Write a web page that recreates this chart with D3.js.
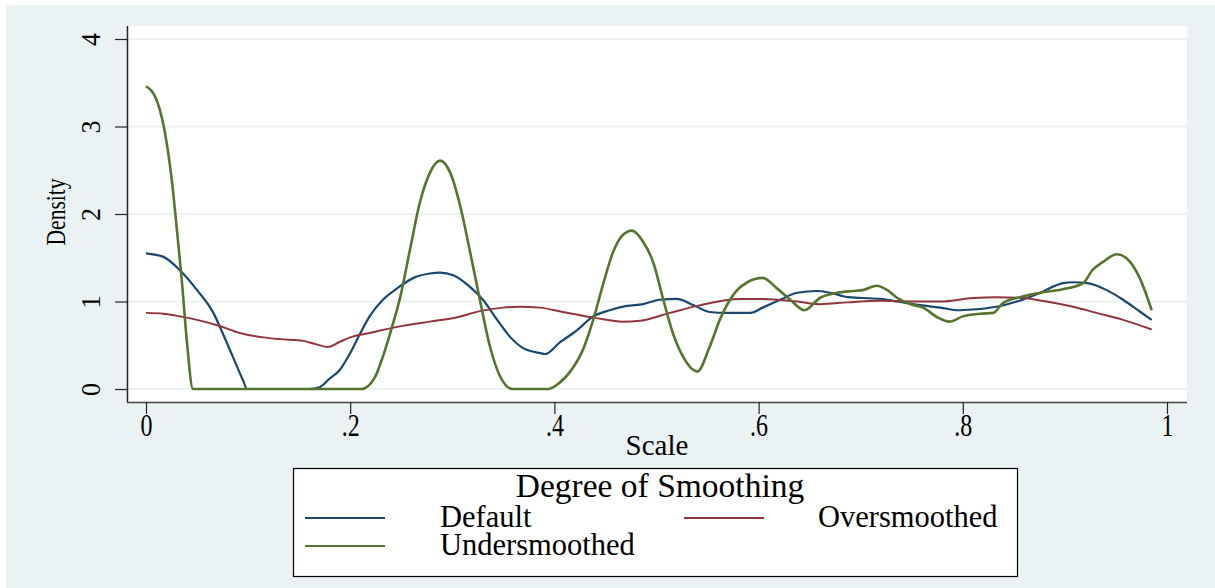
<!DOCTYPE html>
<html>
<head>
<meta charset="utf-8">
<script src="https://cdn.jsdelivr.net/npm/d3@7"></script>
<style>
  html, body { margin: 0; padding: 0; background: #ffffff; }
  svg { display: block; }
</style>
</head>
<body>
<svg id="chart" width="1215" height="588"></svg>
<script>
// ---- data ----
const seriesNames = ["Default", "Oversmoothed", "Undersmoothed"];
const xTickValues = [0, 0.2, 0.4, 0.6, 0.8, 1];
const xTickLabels = ["0", ".2", ".4", ".6", ".8", "1"];
const yTickValues = [0, 1, 2, 3, 4];
const yTickLabels = ["0", "1", "2", "3", "4"];

const xDefault = [0, .017, .033, .05, .066, .075, .085, .095, .099, .16, .17, .18, .19, .2, .21, .219, .232, .246, .262, .278, .288, .301, .317, .33, .344, .357, .369, .386, .391, .405, .422, .438, .454, .471, .487, .503, .52, .536, .552, .569, .582, .592, .604, .621, .638, .657, .67, .687, .702, .719, .736, .751, .778, .797, .833, .853, .876, .898, .908, .922, .941, .957, .974, .985];
const yDefault = [1.55, 1.51, 1.36, 1.13, .87, .64, .37, .10, 0, 0, .02, .12, .22, .41, .64, .83, 1.02, 1.15, 1.27, 1.32, 1.33, 1.30, 1.17, 1.02, .79, .59, .47, .41, .40, .53, .67, .83, .90, .95, .97, 1.02, 1.03, .96, .88, .87, .87, .87, .93, 1.02, 1.10, 1.12, 1.10, 1.05, 1.04, 1.03, 1.00, .97, .93, .90, .94, 1.0, 1.10, 1.21, 1.22, 1.21, 1.13, 1.02, .88, .79];

const xOver = [0, .017, .033, .05, .072, .092, .115, .131, .154, .167, .178, .19, .2, .219, .246, .278, .305, .327, .35, .366, .386, .408, .441, .467, .484, .513, .54, .582, .604, .638, .66, .687, .719, .751, .778, .81, .833, .859, .882, .908, .931, .957, .985];
const yOver = [.87, .86, .83, .79, .72, .64, .59, .57, .55, .51, .48, .54, .59, .64, .71, .77, .82, .89, .93, .94, .93, .88, .81, .77, .78, .87, .95, 1.03, 1.03, 1.0, .97, .99, 1.01, 1.0, 1.0, 1.04, 1.05, 1.04, 1.0, .94, .87, .79, .68];

const xUnder = [0, .0105, .0203, .0264, .030, .035, .040, .046, .211, .224, .232, .241, .249, .259, .268, .278, .288, .298, .308, .317, .327, .337, .347, .359, .394, .405, .418, .428, .438, .448, .457, .467, .476, .487, .497, .506, .516, .526, .540, .552, .562, .572, .579, .589, .604, .618, .631, .645, .660, .677, .692, .702, .716, .726, .736, .751, .761, .775, .787, .800, .817, .830, .839, .856, .876, .898, .918, .927, .937, .951, .964, .974, .985];
const yUnder = [3.46, 3.30, 2.81, 2.27, 1.85, 1.25, .55, 0, 0, .13, .37, .71, 1.05, 1.62, 2.12, 2.47, 2.61, 2.47, 2.08, 1.59, 1.02, .48, .14, 0, 0, .07, .24, .45, .79, 1.21, 1.55, 1.76, 1.81, 1.68, 1.44, 1.05, .64, .37, .20, .48, .79, 1.02, 1.13, 1.22, 1.27, 1.15, 1.02, .90, 1.04, 1.10, 1.12, 1.13, 1.18, 1.13, 1.04, .96, .93, .82, .77, .83, .86, .87, .98, 1.05, 1.10, 1.14, 1.21, 1.36, 1.45, 1.54, 1.45, 1.25, .90];

const seriesColors = ["#1a476f", "#90353b", "#55752f"];

// ---- drawing ----
const FONT = "'Liberation Serif', 'Times New Roman', Times, 'DejaVu Serif', serif";
const svg = d3.select("#chart");
const W = 1215, H = 588;

svg.append("rect").attr("x", 6).attr("y", 5).attr("width", W - 6).attr("height", H - 5).attr("fill", "#eaf2f3");

const plot = { left: 127, right: 1187, top: 26, bottom: 402 };
svg.append("rect").attr("x", plot.left).attr("y", plot.top)
  .attr("width", plot.right - plot.left).attr("height", plot.bottom - plot.top).attr("fill", "#ffffff");

const x = d3.scaleLinear().domain([0, 1]).range([146, 1167]);
const y = d3.scaleLinear().domain([0, 4]).range([389, 39]);

// gridlines
svg.append("g").selectAll("line").data(yTickValues).join("line")
  .attr("x1", plot.left).attr("x2", plot.right)
  .attr("y1", d => y(d)).attr("y2", d => y(d))
  .attr("stroke", "#eaf2f3").attr("stroke-width", 2);

// y axis
const yAxis = d3.axisLeft(y).tickValues(yTickValues).tickSize(12).tickPadding(0).tickFormat((d, i) => yTickLabels[i]);
const gy = svg.append("g").attr("transform", `translate(${plot.left},0)`).call(yAxis)
  .attr("font-family", FONT);
gy.select(".domain").attr("d", `M0.5,${plot.top}V${plot.bottom}`).attr("stroke", "#222").attr("stroke-width", 1.5);
gy.selectAll(".tick line").attr("stroke", "#222").attr("stroke-width", 1.2);
gy.selectAll(".tick text")
  .attr("x", null).attr("dy", null)
  .attr("transform", "translate(-27,0) rotate(-90) scale(1,1.05)")
  .attr("text-anchor", "middle")
  .attr("fill", "#000")
  .style("font-family", FONT).style("font-size", "26px");

// x axis
const xAxis = d3.axisBottom(x).tickValues(xTickValues).tickSize(12).tickPadding(0).tickFormat((d, i) => xTickLabels[i]);
const gx = svg.append("g").attr("transform", `translate(0,${plot.bottom})`).call(xAxis)
  .attr("font-family", FONT);
gx.select(".domain").attr("d", `M${plot.left},0.5H${plot.right}`).attr("stroke", "#444").attr("stroke-width", 1.5);
gx.selectAll(".tick line").attr("stroke", "#222").attr("stroke-width", 1.2);
gx.selectAll(".tick text")
  .attr("y", null).attr("dy", null)
  .attr("transform", "translate(0,34) scale(1,1.32)")
  .attr("fill", "#000")
  .style("font-family", FONT).style("font-size", "24px");

// axis titles
svg.append("text").attr("transform", "translate(657,455)").attr("text-anchor", "middle")
  .style("font-family", FONT).style("font-size", "29px").text("Scale");
svg.append("text").attr("transform", "translate(65,212) rotate(-90) scale(1,1.3)").attr("text-anchor", "middle")
  .style("font-family", FONT).style("font-size", "21.5px").text("Density");

// lines
const line = d3.line().x(d => x(d[0])).y(d => y(d[1])).curve(d3.curveMonotoneX);
const seriesData = [
  d3.zip(xDefault, yDefault),
  d3.zip(xOver, yOver),
  d3.zip(xUnder, yUnder)
];
const widths = [2.2, 2, 2.6];
[0, 1, 2].forEach(i => {
  svg.append("path").datum(seriesData[i])
    .attr("d", line).attr("fill", "none")
    .attr("stroke", seriesColors[i]).attr("stroke-width", widths[i])
    .attr("stroke-linejoin", "round");
});

// legend
const lg = svg.append("g");
lg.append("rect").attr("x", 293.5).attr("y", 468.5).attr("width", 724).attr("height", 108)
  .attr("fill", "#ffffff").attr("stroke", "#000").attr("stroke-width", 1.2);
lg.append("text").attr("x", 660).attr("y", 497).attr("text-anchor", "middle")
  .style("font-family", FONT).style("font-size", "33.5px").text("Degree of Smoothing");
const legendItems = [
  { i: 0, lx: 305, ly: 518, tx: 440 },
  { i: 1, lx: 684, ly: 518, tx: 818 },
  { i: 2, lx: 305, ly: 546, tx: 440 }
];
legendItems.forEach(it => {
  lg.append("line").attr("x1", it.lx).attr("x2", it.lx + 80).attr("y1", it.ly).attr("y2", it.ly)
    .attr("stroke", seriesColors[it.i]).attr("stroke-width", 2.2);
  lg.append("text").attr("x", it.tx).attr("y", it.ly + 9)
    .style("font-family", FONT).style("font-size", "30.5px").text(seriesNames[it.i]);
});
</script>
</body>
</html>
